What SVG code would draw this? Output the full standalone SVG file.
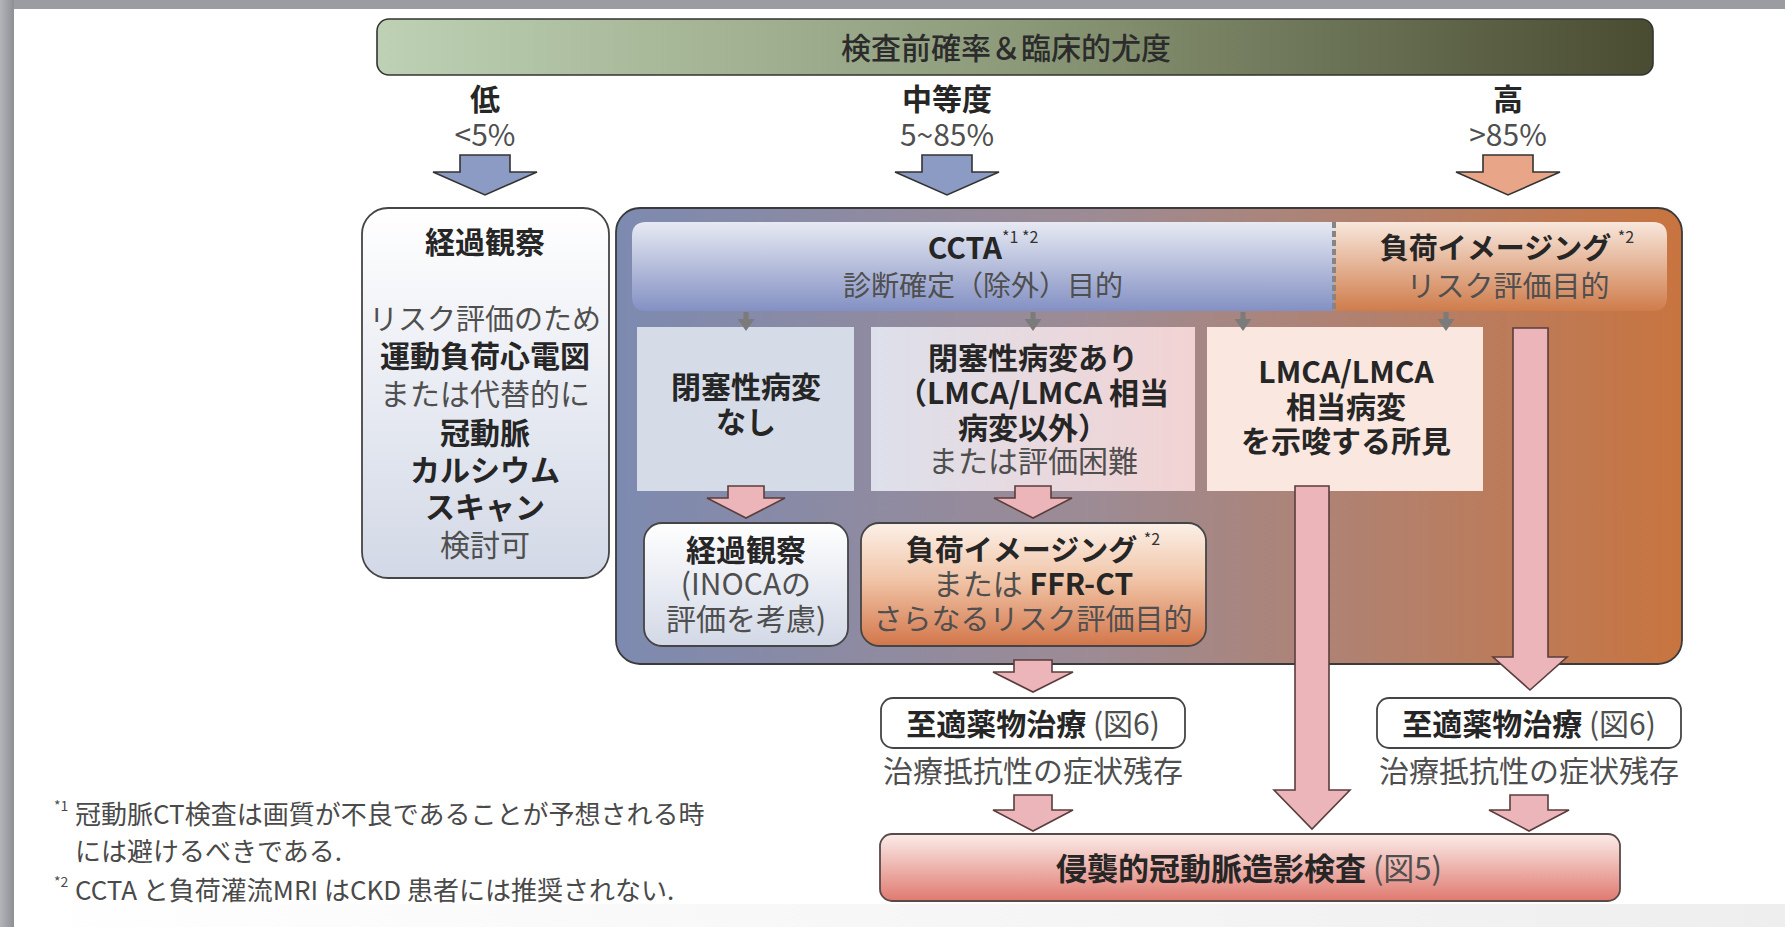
<svg xmlns="http://www.w3.org/2000/svg" width="1785" height="927" viewBox="0 0 1785 927">
<style>
text{font-family:"Noto Sans CJK JP","Noto Sans",sans-serif;text-anchor:middle;dominant-baseline:central;font-size:30px;}
.b{font-weight:700;fill:#262626;}
.r{font-weight:400;fill:#4f4f4f;}
.sup{font-size:16px;font-weight:400;fill:#333;}
.fn{font-size:26px;font-weight:400;fill:#4a4a4a;text-anchor:start;}
.fns{font-size:14px;font-weight:400;fill:#4a4a4a;text-anchor:start;}
.pink{fill:#ecb5b9;stroke:#5b3d3d;stroke-width:1.6;}
.lvl{stroke:#333;stroke-width:1.6;}
.gray{fill:#7b7b7b;}
.edge{stroke:#454545;stroke-width:1.8;}
</style>
<defs>
<linearGradient id="gBar" x1="0" y1="0" x2="1" y2="0"><stop offset="0" stop-color="#bed1b4"/><stop offset="0.5" stop-color="#8c9a79"/><stop offset="1" stop-color="#4a4c32"/></linearGradient>
<linearGradient id="gWhite" x1="0" y1="0" x2="0" y2="1"><stop offset="0" stop-color="#ffffff"/><stop offset="1" stop-color="#d2d8e6"/></linearGradient>
<linearGradient id="gCont" x1="0" y1="0" x2="1" y2="0"><stop offset="0" stop-color="#7d8ab0"/><stop offset="0.45" stop-color="#9d8b94"/><stop offset="0.75" stop-color="#b57f68"/><stop offset="1" stop-color="#c8743f"/></linearGradient>
<linearGradient id="gCCTA" x1="0" y1="0" x2="0" y2="1"><stop offset="0" stop-color="#e7eaf3"/><stop offset="1" stop-color="#8390c3"/></linearGradient>
<linearGradient id="gHOr" x1="0" y1="0" x2="0" y2="1"><stop offset="0" stop-color="#f8e7dc"/><stop offset="1" stop-color="#cf7c4b"/></linearGradient>
<linearGradient id="gBox2" x1="0" y1="0" x2="1" y2="0"><stop offset="0" stop-color="#dde0eb"/><stop offset="1" stop-color="#f2d3d3"/></linearGradient>
<linearGradient id="gLoad" x1="0" y1="0" x2="0" y2="1"><stop offset="0" stop-color="#fcf0e8"/><stop offset="0.45" stop-color="#f1c6a9"/><stop offset="1" stop-color="#d3764a"/></linearGradient>
<linearGradient id="gInv" x1="0" y1="0" x2="0" y2="1"><stop offset="0" stop-color="#fbece9"/><stop offset="1" stop-color="#e07a70"/></linearGradient>
<linearGradient id="gFrame" x1="0" y1="0" x2="1" y2="0"><stop offset="0" stop-color="#b4b5bb"/><stop offset="1" stop-color="#8e8f95"/></linearGradient>
<linearGradient id="gFoot" x1="0" y1="0" x2="1" y2="0"><stop offset="0" stop-color="#ffffff"/><stop offset="1" stop-color="#eeeeee"/></linearGradient>
</defs>

<rect x="0" y="0" width="1785" height="927" fill="#ffffff"/>
<rect x="14" y="904" width="1771" height="23" fill="url(#gFoot)"/>
<rect x="0" y="0" width="1785" height="9" fill="#9b9ca1"/>
<rect x="0" y="0" width="14" height="927" fill="url(#gFrame)"/>

<g id="title-bar">
<rect x="377" y="19" width="1276" height="56" rx="12" fill="url(#gBar)" stroke="#333" stroke-width="1.6"/>
<text x="1006" y="46" style="font-weight:500;fill:#2c2c2c">検査前確率＆臨床的尤度</text>
</g>

<g id="level-low">
<text class="b" x="485" y="97">低</text>
<text class="r" x="485" y="133">&lt;5%</text>
</g>
<g id="level-mid">
<text class="b" x="947" y="97">中等度</text>
<text class="r" x="947" y="133">5~85%</text>
</g>
<g id="level-high">
<text class="b" x="1508" y="97">高</text>
<text class="r" x="1508" y="133">&gt;85%</text>
</g>

<g id="low-observation">
<rect x="362" y="208" width="247" height="370" rx="26" fill="url(#gWhite)" class="edge"/>
<text class="b" x="485" y="240">経過観察</text>
<text class="r" x="485" y="317" style="font-size:29px">リスク評価のため</text>
<text class="b" x="485" y="354">運動負荷心電図</text>
<text class="r" x="485" y="392">または代替的に</text>
<text class="b" x="485" y="431">冠動脈</text>
<text class="b" x="485" y="468">カルシウム</text>
<text class="b" x="485" y="505">スキャン</text>
<text class="r" x="485" y="543">検討可</text>
</g>

<g id="container">
<rect x="616" y="208" width="1066" height="456" rx="24" fill="url(#gCont)" stroke="#3a3a3a" stroke-width="1.8"/>
</g>

<g id="ccta-header">
<path d="M646,222 H1334 V311 H646 Q632,311 632,297 V236 Q632,222 646,222 Z" fill="url(#gCCTA)"/>
<text class="b" x="983" y="246">CCTA<tspan class="sup" dy="-10">*1 *2</tspan></text>
<text class="r" x="983" y="284" style="font-size:28px">診断確定（除外）目的</text>
</g>

<g id="stress-header">
<path d="M1334,222 H1653 Q1667,222 1667,236 V297 Q1667,311 1653,311 H1334 Z" fill="url(#gHOr)"/>
<text class="b" x="1507" y="246" style="font-size:29px">負荷イメージング <tspan class="sup" dy="-10">*2</tspan></text>
<text class="r" x="1508" y="284" style="font-size:29px">リスク評価目的</text>
<line x1="1334" y1="222" x2="1334" y2="311" stroke="#858585" stroke-width="4" stroke-dasharray="6 3"/>
</g>

<g id="no-obstruction">
<rect x="637" y="327" width="217" height="164" fill="#d5dce8"/>
<text class="b" x="746" y="385">閉塞性病変</text>
<text class="b" x="746" y="420">なし</text>
</g>

<g id="obstruction">
<rect x="871" y="327" width="324" height="164" fill="url(#gBox2)"/>
<text class="b" x="1033" y="356">閉塞性病変あり</text>
<text class="b" x="1033" y="391">（LMCA/LMCA 相当</text>
<text class="b" x="1033" y="426">病変以外）</text>
<text class="r" x="1033" y="459">または評価困難</text>
</g>

<g id="lmca">
<rect x="1207" y="327" width="276" height="164" fill="#f9e7e0"/>
<text class="b" x="1346" y="370">LMCA/LMCA</text>
<text class="b" x="1346" y="405">相当病変</text>
<text class="b" x="1346" y="439">を示唆する所見</text>
</g>

<g id="inoca">
<rect x="644" y="523" width="204" height="123" rx="18" fill="url(#gWhite)" class="edge"/>
<text class="b" x="746" y="548">経過観察</text>
<text class="r" x="746" y="582">(INOCAの</text>
<text class="r" x="746" y="617">評価を考慮)</text>
</g>

<g id="stress-ffr">
<rect x="861" y="523" width="345" height="123" rx="18" fill="url(#gLoad)" class="edge"/>
<text class="b" x="1033" y="548" style="font-size:29px">負荷イメージング <tspan class="sup" dy="-10">*2</tspan></text>
<text class="r" x="1033" y="582">または <tspan class="b">FFR-CT</tspan></text>
<text class="r" x="1033" y="617" style="font-size:29px">さらなるリスク評価目的</text>
</g>

<g id="omt-left">
<rect x="881" y="698" width="304" height="50" rx="12" fill="#ffffff" class="edge"/>
<text x="1033" y="722"><tspan class="b">至適薬物治療</tspan><tspan class="r"> (図6)</tspan></text>
<text class="r" x="1033" y="769">治療抵抗性の症状残存</text>
</g>

<g id="omt-right">
<rect x="1377" y="698" width="304" height="50" rx="12" fill="#ffffff" class="edge"/>
<text x="1529" y="722"><tspan class="b">至適薬物治療</tspan><tspan class="r"> (図6)</tspan></text>
<text class="r" x="1529" y="769">治療抵抗性の症状残存</text>
</g>

<g id="invasive">
<rect x="880" y="834" width="740" height="67" rx="12" fill="url(#gInv)" stroke="#5a4a4a" stroke-width="1.8"/>
<text x="1249" y="866" style="font-size:31px"><tspan class="b">侵襲的冠動脈造影検査</tspan><tspan class="r"> (図5)</tspan></text>
</g>

<g id="connectors">
<path class="lvl" fill="#8b9bc3" d="M460,155 H510 V172 H537 L485,195 L433,172 H460 Z"/>
<path class="lvl" fill="#8b9bc3" d="M922,155 H972 V172 H999 L947,195 L895,172 H922 Z"/>
<path class="lvl" fill="#e8a587" d="M1483,155 H1533 V172 H1560 L1508,195 L1456,172 H1483 Z"/>
<path class="gray" d="M743.5,312 h5 v7 h6 l-8.5,12 l-8.5,-12 h6 z"/>
<path class="gray" d="M1030.5,312 h5 v7 h6 l-8.5,12 l-8.5,-12 h6 z"/>
<path class="gray" d="M1240.5,312 h5 v7 h6 l-8.5,12 l-8.5,-12 h6 z"/>
<path class="gray" d="M1443.5,312 h5 v7 h6 l-8.5,12 l-8.5,-12 h6 z"/>
<path class="pink" d="M728,486 H764 V498 H785 L746,518 L707,498 H728 Z"/>
<path class="pink" d="M1015,486 H1051 V498 H1072 L1033,518 L994,498 H1015 Z"/>
<path class="pink" d="M1014,660 H1052 V672 H1073 L1033,692 L993,672 H1014 Z"/>
<path class="pink" d="M1295,486 H1329 V790 H1350 L1312,829 L1274,790 H1295 Z"/>
<path class="pink" d="M1513,328 H1548 V657 H1567 L1530,690 L1493,657 H1513 Z"/>
<path class="pink" d="M1014,795 H1052 V810 H1073 L1033,831 L993,810 H1014 Z"/>
<path class="pink" d="M1510,795 H1548 V810 H1569 L1529,831 L1489,810 H1510 Z"/>
</g>

<g id="footnotes">
<text class="fns" x="54" y="805">*1</text>
<text class="fn" x="75" y="812">冠動脈CT検査は画質が不良であることが予想される時</text>
<text class="fn" x="75" y="849">には避けるべきである.</text>
<text class="fns" x="54" y="881">*2</text>
<text class="fn" x="75" y="888">CCTA と負荷灌流MRI はCKD 患者には推奨されない.</text>
</g>
</svg>
